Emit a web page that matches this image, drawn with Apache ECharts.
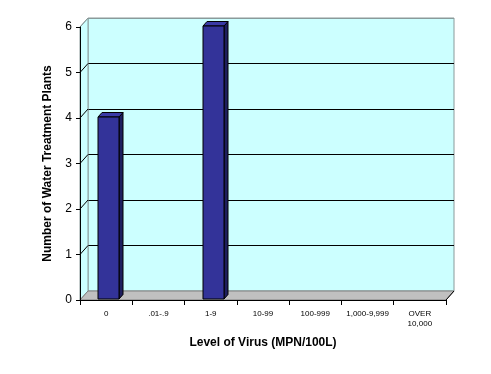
<!DOCTYPE html>
<html>
<head>
<meta charset="utf-8">
<script src="https://cdn.jsdelivr.net/npm/echarts@6/dist/echarts.min.js"></script>
<style>html,body{margin:0;padding:0;background:#fff;}#c{width:491px;height:374px;}</style>
</head>
<body>
<div id="c"></div>
<script>
var categories = ['0', '.01-.9', '1-9', '10-99', '100-999', '1,000-9,999', 'OVER\n10,000'];
var plantCounts = [4, 0, 6, 0, 0, 0, 0];
var yTicks = [0, 1, 2, 3, 4, 5, 6];

var DX = 8, DY = -9; // 3D depth offset (layout)
var CYAN = '#CCFFFF';

var chart = echarts.init(document.getElementById('c'), null, {renderer: 'canvas'});

function frameItem(params, api) {
  var cs = params.coordSys;
  var x0 = cs.x, x1 = cs.x + cs.width, yB = cs.y + cs.height, yT = cs.y;
  var children = [];
  children.push({type: 'polygon', shape: {points: [[x0, yB], [x0, yT], [x0 + DX, yT + DY], [x0 + DX, yB + DY]]},
    style: {fill: CYAN, stroke: '#8a9a9a', lineWidth: 1}});
  yTicks.forEach(function (v) {
    if (v === 0) return;
    var p = api.coord([0, v]);
    children.push({type: 'line', shape: {x1: x0, y1: p[1], x2: x0 + DX, y2: p[1] + DY},
      style: {stroke: v === 6 ? '#8a9a9a' : '#000', lineWidth: 1}});
  });
  children.push({type: 'polygon', shape: {points: [[x0, yB], [x1, yB], [x1 + DX, yB + DY], [x0 + DX, yB + DY]]},
    style: {fill: '#C0C0C0', stroke: '#808080', lineWidth: 1}});
  children.push({type: 'line', shape: {x1: x1, y1: yB, x2: x1 + DX, y2: yB + DY},
    style: {stroke: '#000', lineWidth: 1}});
  return {type: 'group', children: children};
}

function barItem(params, api) {
  var v = api.value(1);
  if (!v) return null;
  var top = api.coord([api.value(0), v]);
  var bot = api.coord([api.value(0), 0]);
  var w = 21;
  var fx = 1, fy = -1;
  var d = 4, dy = -4.5;
  var x = Math.round(top[0] - w / 2 + 1.5) + fx;
  var yT = top[1] + fy, yB = bot[1] + fy;
  return {type: 'group', children: [
    {type: 'polygon', shape: {points: [[x + w, yT], [x + w + d, yT + dy], [x + w + d, yB + dy], [x + w, yB]]},
      style: {fill: '#1e1e5e', stroke: '#000', lineWidth: 1}},
    {type: 'polygon', shape: {points: [[x, yT], [x + w, yT], [x + w + d, yT + dy], [x + d, yT + dy]]},
      style: {fill: '#3a3aa6', stroke: '#000', lineWidth: 1}},
    {type: 'rect', shape: {x: x, y: yT, width: w, height: yB - yT},
      style: {fill: '#333399', stroke: '#000', lineWidth: 1}}
  ]};
}

var option = {
  animation: false,
  backgroundColor: '#fff',
  grid: [
    {left: 88, right: 37, top: 18, bottom: 83, show: true, backgroundColor: CYAN, borderColor: '#8a9a9a', borderWidth: 1, z: 0},
    {left: 80, right: 45, top: 27, bottom: 74}
  ],
  xAxis: [
    {gridIndex: 0, type: 'category', data: categories, show: false},
    {gridIndex: 1, type: 'category', data: categories, z: 5,
      axisLine: {show: true, lineStyle: {color: '#000', width: 1}},
      axisTick: {show: true, length: 5, lineStyle: {color: '#000'}},
      axisLabel: {interval: 0, fontSize: 8, fontFamily: 'Liberation Sans, Arial', color: '#000', margin: 9, lineHeight: 10},
      name: 'Level of Virus (MPN/100L)', nameLocation: 'middle', nameGap: 37,
      nameTextStyle: {fontSize: 12, fontWeight: 'bold', fontFamily: 'Liberation Sans, Arial', color: '#000'}
    }
  ],
  yAxis: [
    {gridIndex: 0, type: 'value', min: 0, max: 6, interval: 1,
      axisLine: {show: false}, axisTick: {show: false}, axisLabel: {show: false},
      splitLine: {show: true, lineStyle: {color: ['#8a9a9a', '#000', '#000', '#000', '#000', '#000', '#8a9a9a'], width: 1}}
    },
    {gridIndex: 1, type: 'value', min: 0, max: 6, interval: 1, z: 5,
      axisLine: {show: true, lineStyle: {color: '#000', width: 1}},
      axisTick: {show: true, length: 4, lineStyle: {color: '#000'}},
      axisLabel: {fontSize: 12, fontFamily: 'Liberation Sans, Arial', color: '#000', margin: 8},
      splitLine: {show: false},
      name: 'Number of Water Treatment Plants', nameLocation: 'middle', nameGap: 26,
      nameTextStyle: {fontSize: 12, fontWeight: 'bold', fontFamily: 'Liberation Sans, Arial', color: '#000'}
    }
  ],
  series: [
    {type: 'custom', xAxisIndex: 1, yAxisIndex: 1, z: 1, silent: true,
      data: [[0, 0]], renderItem: frameItem},
    {type: 'custom', xAxisIndex: 1, yAxisIndex: 1, z: 3,
      data: plantCounts.map(function (v, i) { return [i, v]; }), renderItem: barItem}
  ]
};
chart.setOption(option);
</script>
</body>
</html>
